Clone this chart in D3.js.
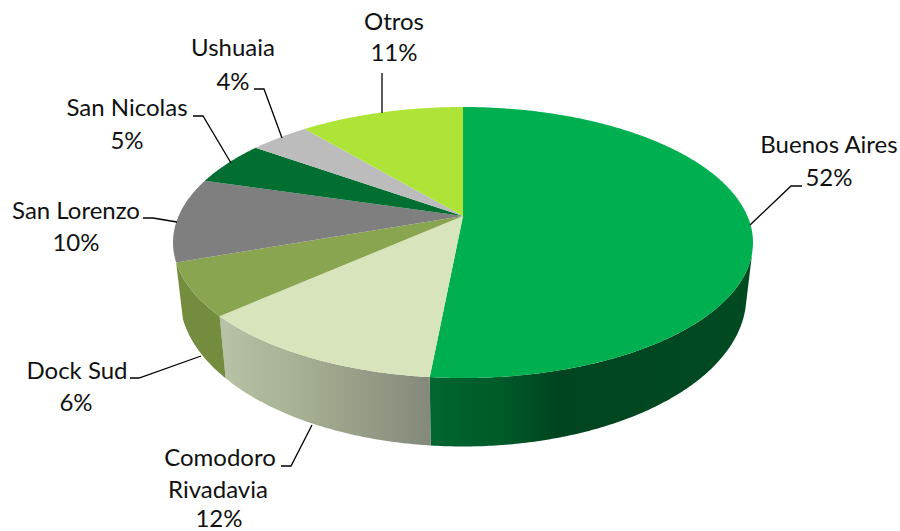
<!DOCTYPE html>
<html>
<head>
<meta charset="utf-8">
<script src="https://cdn.jsdelivr.net/npm/d3@7/dist/d3.min.js"></script>
<style>
html,body{margin:0;padding:0;background:#fff}
svg{display:block}
text{font-family:Lato,"Open Sans",sans-serif;font-size:24px;fill:#111}
</style>
</head>
<body>
<svg id="chart" width="900" height="531"></svg>
<script>
// ---- data ----
const categories = ["Buenos Aires", "Comodoro Rivadavia", "Dock Sud", "San Lorenzo", "San Nicolas", "Ushuaia", "Otros"];
const values = [51.5, 11.85, 6.25, 10.0, 5.3, 4.05, 11.05];
const percentLabels = ["52%", "12%", "6%", "10%", "5%", "4%", "11%"];
const topColors = ["#00b050", "#d8e4bc", "#8aa54f", "#7f7f7f", "#006f31", "#bcbcbc", "#aee437"];

// ---- layout (not data) ----
const labelLayout = [
  {lines: [["Buenos Aires", 829, 153]], pct: [829, 186], leader: [[750,225],[791,186],[802,186]]},
  {lines: [["Comodoro", 220, 466], ["Rivadavia", 218, 498]], pct: [219, 527], leader: [[281,466],[291,466],[312,425]]},
  {lines: [["Dock Sud", 77, 379]], pct: [76, 411], leader: [[130,378],[139,378],[201,356]]},
  {lines: [["San Lorenzo", 76, 219]], pct: [76, 251], leader: [[143,218],[153,218],[177,222]]},
  {lines: [["San Nicolas", 127, 116]], pct: [127, 149], leader: [[193,116],[203,116],[231,163]]},
  {lines: [["Ushuaia", 233, 56]], pct: [233, 90], leader: [[254,89],[264,89],[282,138]]},
  {lines: [["Otros", 394, 30]], pct: [394, 61], leader: [[382,73],[382,113]]}
];
const wallGradients = {
  0: [[430,"#00662f"],[500,"#005a2a"],[556,"#004520"],[750,"#004a22"]],
  1: [[225,"#b6c1a5"],[300,"#a6b092"],[430,"#84897a"]]
};
const wallSolid = {2: "#748c3e"};
const wallStartAngle = {0: 105 * Math.PI / 180};

// perspective projection of the pie's unit circle, top and bottom faces
const cx = 463;
const topFace = {a: 88.07, b: 216, c: -0.1956, d: 284.4};
const botFace = {a: 92.8, b: 267.5, c: -0.193, d: 278};
const project = (f, x, y) => {
  const w = f.c * y + 1;
  return [cx + f.d * x / w, (f.a * y + f.b) / w];
};
const onRim = (f, t) => project(f, Math.sin(t), -Math.cos(t));
const arcPts = (f, t0, t1) => {
  const n = Math.max(2, Math.ceil((t1 - t0) / 0.01));
  const s = d3.scaleLinear().domain([0, n]).range([t0, t1]);
  return d3.range(n + 1).map(i => onRim(f, s(i)));
};

const svg = d3.select("#chart");
const line = d3.line();
const pie = d3.pie().sort(null).startAngle(0).endAngle(2 * Math.PI);
const arcs = pie(values);

const defs = svg.append("defs");
Object.entries(wallGradients).forEach(([i, stops]) => {
  const x0 = stops[0][0], x1 = stops[stops.length - 1][0];
  const off = d3.scaleLinear().domain([x0, x1]).range([0, 1]);
  const g = defs.append("linearGradient").attr("id", "wall" + i)
    .attr("gradientUnits", "userSpaceOnUse")
    .attr("x1", x0).attr("x2", x1).attr("y1", 0).attr("y2", 0);
  stops.forEach(s => g.append("stop").attr("offset", off(s[0])).attr("stop-color", s[1]));
});

// side walls
svg.append("g").selectAll("path")
  .data(arcs.map((a, i) => ({a, i})).filter(d => wallGradients[d.i] || wallSolid[d.i]))
  .join("path")
  .attr("d", d => {
    const t0 = Math.max(d.a.startAngle, wallStartAngle[d.i] || 0);
    const pts = arcPts(topFace, t0, d.a.endAngle).concat(arcPts(botFace, t0, d.a.endAngle).reverse());
    return line(pts) + "Z";
  })
  .attr("fill", d => wallSolid[d.i] || `url(#wall${d.i})`);

// top face
svg.append("g").selectAll("path")
  .data(arcs)
  .join("path")
  .attr("d", d => line([[cx, topFace.b]].concat(arcPts(topFace, d.startAngle, d.endAngle))) + "Z")
  .attr("fill", (d, i) => topColors[i]);

// leader lines
svg.append("g").selectAll("path")
  .data(labelLayout)
  .join("path")
  .attr("d", d => line(d.leader))
  .attr("fill", "none").attr("stroke", "#000").attr("stroke-width", 1.3);

// labels
const labels = svg.append("g").attr("text-anchor", "middle");
labelLayout.forEach((l, i) => {
  l.lines.forEach(t => labels.append("text").attr("x", t[1]).attr("y", t[2]).text(t[0]));
  labels.append("text").attr("x", l.pct[0]).attr("y", l.pct[1]).text(percentLabels[i]);
});
</script>
</body>
</html>
